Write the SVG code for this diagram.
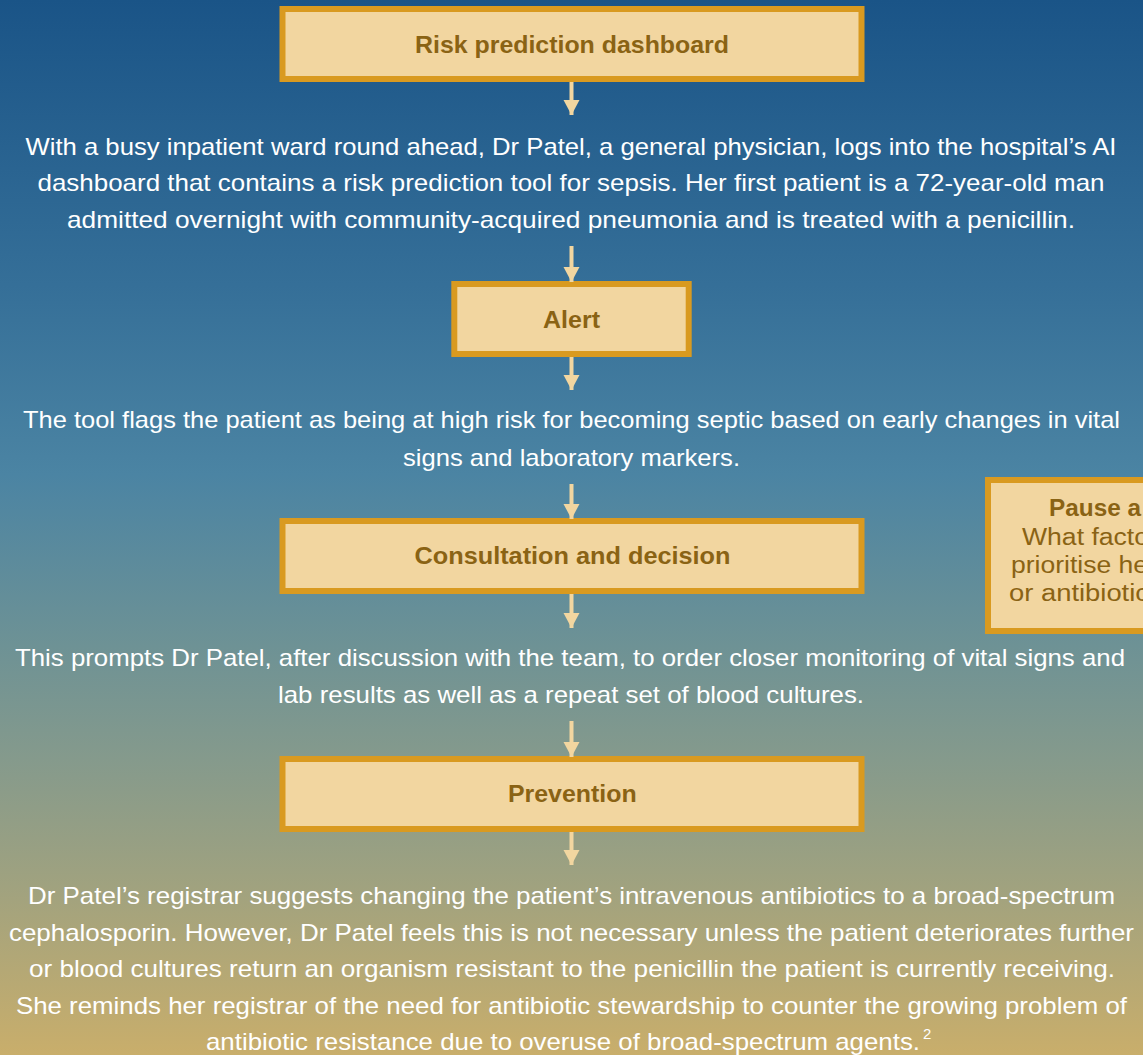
<svg xmlns="http://www.w3.org/2000/svg" width="1143" height="1055" viewBox="0 0 1143 1055">
  <defs>
    <linearGradient id="bg" x1="0" y1="0" x2="0" y2="1">
      <stop offset="0" stop-color="#1A5487"/>
      <stop offset="0.27" stop-color="#356F98"/>
      <stop offset="0.45" stop-color="#4B84A3"/>
      <stop offset="0.6" stop-color="#6B9196"/>
      <stop offset="0.72" stop-color="#859A8C"/>
      <stop offset="0.84" stop-color="#A0A27F"/>
      <stop offset="1" stop-color="#C9AE6B"/>
    </linearGradient>
    <marker id="ah" markerUnits="userSpaceOnUse" markerWidth="17" markerHeight="17" refX="15" refY="8" orient="auto">
      <path d="M0,0 L15,8 L0,16 Z" fill="#F2D6A0"/>
    </marker>
    <style>
      .box { fill: #F2D6A0; stroke: #D99A20; stroke-width: 6; }
      .lbl { font-family: "Liberation Sans", Arial, sans-serif; font-weight: bold; font-size: 24px; fill: #8A6314; text-anchor: middle; }
      .para { font-family: "Liberation Sans", Arial, sans-serif; font-size: 24px; fill: #FFFFFF; text-anchor: middle; }
      .pz { font-family: "Liberation Sans", Arial, sans-serif; font-size: 23px; fill: #8A6314; }
      .conn { stroke: #F2D6A0; stroke-width: 4; fill: none; marker-end: url(#ah); }
    </style>
  </defs>

  <rect x="0" y="0" width="1143" height="1055" fill="url(#bg)"/>

  <g id="node-dashboard">
    <rect class="box" x="282.5" y="9" width="579" height="70"/>
    <text class="lbl" x="572" y="53" textLength="314" lengthAdjust="spacingAndGlyphs">Risk prediction dashboard</text>
  </g>

  <g id="text-1">
    <text class="para" x="571" y="154.5" textLength="1091" lengthAdjust="spacingAndGlyphs">With a busy inpatient ward round ahead, Dr Patel, a general physician, logs into the hospital’s AI</text>
    <text class="para" x="571" y="191" textLength="1067" lengthAdjust="spacingAndGlyphs">dashboard that contains a risk prediction tool for sepsis. Her first patient is a 72-year-old man</text>
    <text class="para" x="571" y="227.5" textLength="1008" lengthAdjust="spacingAndGlyphs">admitted overnight with community-acquired pneumonia and is treated with a penicillin.</text>
  </g>

  <g id="node-alert">
    <rect class="box" x="454.3" y="284" width="234.4" height="70"/>
    <text class="lbl" x="571.5" y="328" textLength="57" lengthAdjust="spacingAndGlyphs">Alert</text>
  </g>

  <g id="text-2">
    <text class="para" x="571.5" y="428" textLength="1097" lengthAdjust="spacingAndGlyphs">The tool flags the patient as being at high risk for becoming septic based on early changes in vital</text>
    <text class="para" x="571.5" y="465.5" textLength="337" lengthAdjust="spacingAndGlyphs">signs and laboratory markers.</text>
  </g>

  <g id="node-consultation">
    <rect class="box" x="282.5" y="521" width="579" height="70"/>
    <text class="lbl" x="572.5" y="564" textLength="316" lengthAdjust="spacingAndGlyphs">Consultation and decision</text>
  </g>

  <g id="node-pause">
    <rect class="box" x="988" y="480" width="220" height="151"/>
    <text class="pz" x="1049" y="516" font-weight="bold" textLength="92" lengthAdjust="spacingAndGlyphs">Pause a</text>
    <text class="pz" x="1022" y="545" textLength="127" lengthAdjust="spacingAndGlyphs">What facto</text>
    <text class="pz" x="1011" y="573" textLength="137" lengthAdjust="spacingAndGlyphs">prioritise he</text>
    <text class="pz" x="1009" y="601" textLength="140" lengthAdjust="spacingAndGlyphs">or antibiotic</text>
  </g>

  <g id="text-3">
    <text class="para" x="570" y="666" textLength="1110" lengthAdjust="spacingAndGlyphs">This prompts Dr Patel, after discussion with the team, to order closer monitoring of vital signs and</text>
    <text class="para" x="571" y="703" textLength="586" lengthAdjust="spacingAndGlyphs">lab results as well as a repeat set of blood cultures.</text>
  </g>

  <g id="node-prevention">
    <rect class="box" x="282.5" y="759" width="579" height="70"/>
    <text class="lbl" x="572.3" y="802" textLength="128.6" lengthAdjust="spacingAndGlyphs">Prevention</text>
  </g>

  <g id="text-4">
    <text class="para" x="571.5" y="904" textLength="1087" lengthAdjust="spacingAndGlyphs">Dr Patel’s registrar suggests changing the patient’s intravenous antibiotics to a broad-spectrum</text>
    <text class="para" x="571.5" y="940.5" textLength="1125" lengthAdjust="spacingAndGlyphs">cephalosporin. However, Dr Patel feels this is not necessary unless the patient deteriorates further</text>
    <text class="para" x="572" y="977" textLength="1086" lengthAdjust="spacingAndGlyphs">or blood cultures return an organism resistant to the penicillin the patient is currently receiving.</text>
    <text class="para" x="571.5" y="1013.5" textLength="1111" lengthAdjust="spacingAndGlyphs">She reminds her registrar of the need for antibiotic stewardship to counter the growing problem of</text>
    <text class="para" x="206" y="1050" style="text-anchor:start" textLength="714" lengthAdjust="spacingAndGlyphs">antibiotic resistance due to overuse of broad-spectrum agents.</text>
    <text class="para" x="923" y="1039" style="text-anchor:start; font-size:15px">2</text>
  </g>

  <g id="connectors">
    <line class="conn" x1="571.5" y1="82" x2="571.5" y2="115"/>
    <line class="conn" x1="571.5" y1="246" x2="571.5" y2="282"/>
    <line class="conn" x1="571.5" y1="357" x2="571.5" y2="390"/>
    <line class="conn" x1="571.5" y1="484" x2="571.5" y2="519"/>
    <line class="conn" x1="571.5" y1="594" x2="571.5" y2="628"/>
    <line class="conn" x1="571.5" y1="721" x2="571.5" y2="757"/>
    <line class="conn" x1="571.5" y1="832" x2="571.5" y2="865"/>
  </g>
</svg>
